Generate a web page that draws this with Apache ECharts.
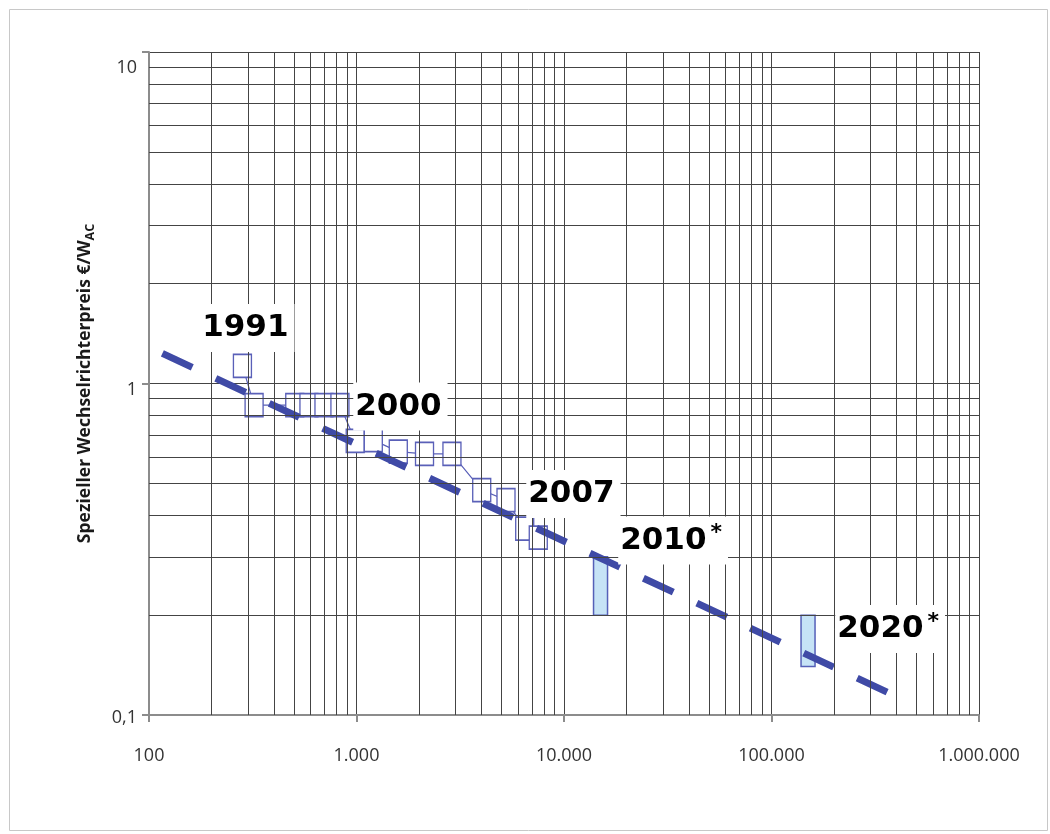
<!DOCTYPE html>
<html>
<head>
<meta charset="utf-8">
<script src="https://cdn.jsdelivr.net/npm/echarts@6/dist/echarts.min.js"></script>
<style>
  html, body { margin: 0; padding: 0; background: #fff; }
  #chart { width: 1050px; height: 834px; }
</style>
</head>
<body>
<div id="chart"></div>
<script>
// measured squares (price per W vs. cumulated volume)
const historyX = [282, 321, 504, 590, 697, 832, 986, 1205, 1590, 2127, 2884, 4013, 5254, 6466, 7516];
const historyY = [1.13, 0.861, 0.861, 0.861, 0.861, 0.861, 0.671, 0.675, 0.623, 0.613, 0.613, 0.477, 0.445, 0.365, 0.343];
// forecast ranges (2010*, 2020*)
const forecastX = [15000, 150000];
const forecastLow = [0.2, 0.14];
const forecastHigh = [0.3, 0.2];
// learning curve
const trendX = [116, 385000];
const trendY = [1.233, 0.115];
// year annotations
const yearLabels = ["1991", "2000", "2007", "2010*", "2020*"];
const yearLabelX = [176, 962, 6560, 18200, 202300];
const yearLabelY = [1.47, 0.852, 0.464, 0.336, 0.1817];
// axes
const xTicks = [100, 1000, 10000, 100000, 1000000];
const yTicks = [0.1, 1, 10];

const gridColor = "#444";
const axisColor = "#8c8c8c";

// minor grid (2..9 inside each decade)
const minorX = [];
xTicks.slice(0, -1).forEach((d) => {
  for (let m = 2; m <= 9; m++) minorX.push(d * m);
});
const minorY = [];
yTicks.slice(0, -1).forEach((d) => {
  for (let m = 2; m <= 9; m++) minorY.push(d * m);
});

const chartDom = document.getElementById("chart");
const myChart = echarts.init(chartDom);

const fmtThousands = (v) => String(Math.round(v)).replace(/\B(?=(\d{3})+(?!\d))/g, ".");

const labelStyle = { fontFamily: "Open Sans", fontSize: 18, color: "#333" };

const option = {
  animation: false,
  backgroundColor: "#fff",
  graphic: [
    {
      type: "rect",
      left: 7,
      top: 7,
      shape: { width: 1038, height: 821 },
      style: { fill: "none", stroke: "#c8c8c8", lineWidth: 1 },
      silent: true,
    },
  ],
  grid: { left: 149, right: 71, top: 52, bottom: 119 },
  xAxis: {
    type: "log",
    logBase: 10,
    min: 100,
    max: 1000000,
    axisLine: { show: true, lineStyle: { color: axisColor, width: 2 } },
    axisTick: { show: true, length: 7, lineStyle: { color: axisColor, width: 2 } },
    axisLabel: {
      margin: 32,
      ...labelStyle,
      formatter: fmtThousands,
    },
    splitLine: { show: true, lineStyle: { color: gridColor, width: 1 } },
  },
  yAxis: {
    type: "log",
    logBase: 10,
    min: 0.1,
    max: 10,
    name: "{n|Spezieller Wechselrichterpreis €/W}{s|AC}",
    nameLocation: "middle",
    nameRotate: 90,
    nameGap: 52,
    nameTextStyle: {
      rich: {
        n: { fontFamily: "Open Sans", fontSize: 17.5, fontWeight: "bold", color: "#1a1a1a", lineHeight: 24 },
        s: { fontFamily: "Open Sans", fontSize: 12.5, fontWeight: "bold", color: "#1a1a1a", lineHeight: 15, verticalAlign: "bottom" },
      },
    },
    axisLine: { show: true, lineStyle: { color: axisColor, width: 2 } },
    axisTick: { show: true, length: 7, lineStyle: { color: axisColor, width: 2 } },
    axisLabel: {
      margin: 12,
      ...labelStyle,
      formatter: (v) => {
        const e = Math.round(Math.log10(v));
        if (e >= 1) return "{a|10}";
        if (e === 0) return "{b|1}";
        return "{c|0,1}";
      },
      rich: {
        a: { ...labelStyle, padding: [32, 0, 0, 0] },
        b: { ...labelStyle, padding: [12, 0, 0, 0] },
        c: { ...labelStyle, padding: [5, 0, 0, 0] },
      },
    },
    splitLine: { show: true, lineStyle: { color: gridColor, width: 1 } },
  },
  series: [
    {
      // minor grid lines
      type: "line",
      data: [],
      silent: true,
      z: 1,
      markLine: {
        silent: true,
        symbol: ["none", "none"],
        label: { show: false },
        lineStyle: { color: gridColor, width: 1, type: "solid" },
        data: [
          ...minorX.map((v) => ({ xAxis: v })),
          ...minorY.map((v) => ({ yAxis: v })),
        ],
      },
    },
    {
      type: "line",
      data: historyX.map((x, i) => [x, historyY[i]]),
      symbol: "rect",
      symbolSize: [18, 23],
      showSymbol: true,
      lineStyle: { color: "#5a60b8", width: 1.2 },
      itemStyle: { color: "#fff", borderColor: "#5a60b8", borderWidth: 1.5 },
      z: 3,
    },
    {
      type: "custom",
      z: 3,
      data: forecastX.map((x, i) => [x, forecastLow[i], forecastHigh[i]]),
      renderItem: function (params, api) {
        const top = api.coord([api.value(0), api.value(2)]);
        const bot = api.coord([api.value(0), api.value(1)]);
        return {
          type: "rect",
          shape: { x: top[0] - 7, y: top[1], width: 14, height: bot[1] - top[1] },
          style: { fill: "#c6e3f6", stroke: "#5560b8", lineWidth: 1.5 },
        };
      },
    },
    {
      type: "line",
      data: trendX.map((x, i) => [x, trendY[i]]),
      symbol: "none",
      lineStyle: { color: "#3f4aa6", width: 7, type: [33, 26], cap: "butt" },
      z: 4,
    },
    {
      type: "scatter",
      data: yearLabelX.map((x, i) => [x, yearLabelY[i], yearLabels[i]]),
      symbolSize: 0.5,
      itemStyle: { color: "#fff", opacity: 1 },
      z: 5,
      label: {
        show: true,
        position: "right",
        distance: 0,
        color: "#000",
        opacity: 1,
        backgroundColor: "#fff",
        padding: [6, 6, 6, 2],
        formatter: (p) => {
          const t = p.value[2];
          if (t.endsWith("*")) return "{y|" + t.slice(0, -1) + "}{s|*}";
          return "{y|" + t + "}";
        },
        rich: {
          y: { fontFamily: "DejaVu Sans", fontWeight: "bold", fontSize: 31, color: "#000", lineHeight: 36 },
          s: { fontFamily: "DejaVu Sans", fontWeight: "bold", fontSize: 22, color: "#000", lineHeight: 22, verticalAlign: "top", padding: [0, 0, 0, 4] },
        },
      },
    },
  ],
};

option && myChart.setOption(option);
</script>
</body>
</html>
